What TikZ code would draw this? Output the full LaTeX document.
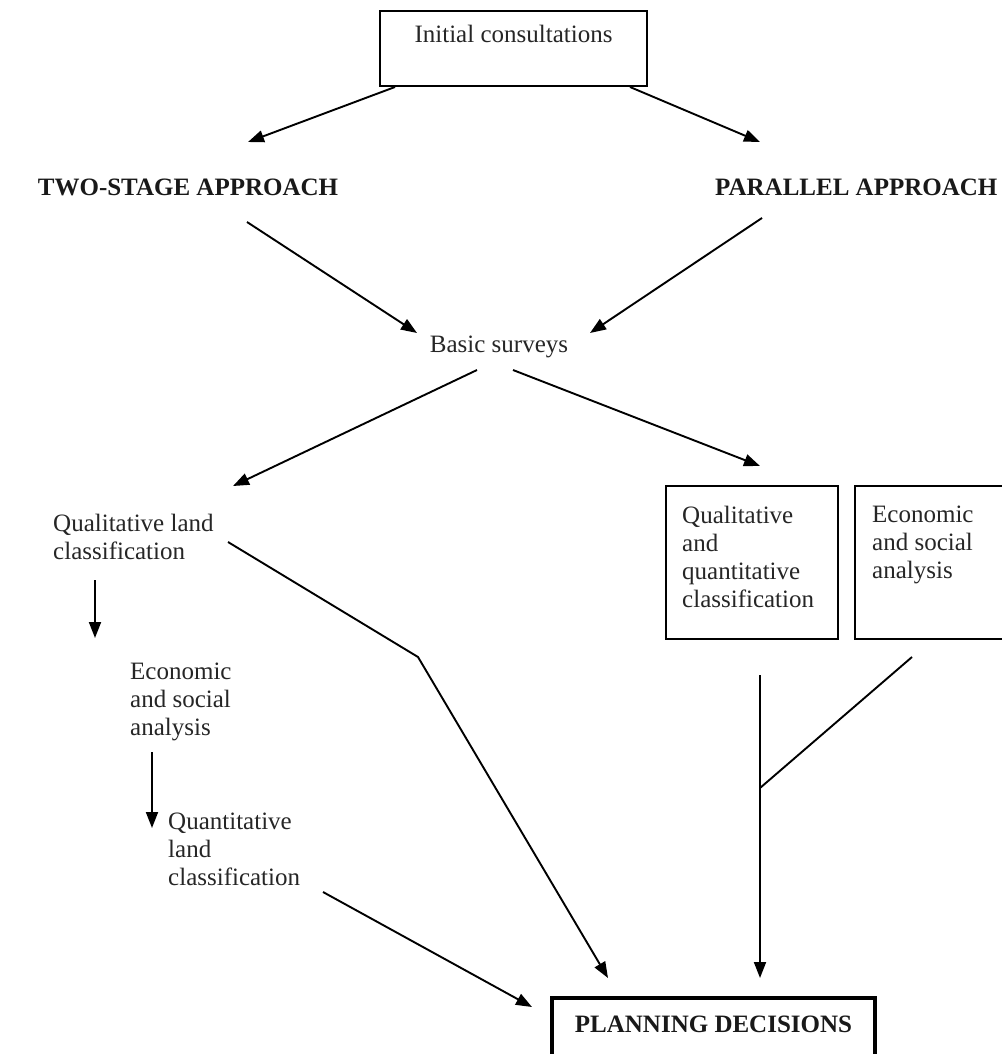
\documentclass[tikz,border=0pt]{standalone}
\usepackage{fontspec}
\setmainfont{Liberation Serif}
\usetikzlibrary{arrows.meta}
\begin{document}
\begin{tikzpicture}[x=1pt,y=-1pt,
  txt/.style={inner sep=0pt, text=black!85, font=\fontsize{25}{28}\selectfont},
  txtml/.style={txt, align=left},
  bold/.style={inner sep=0pt, text=black!90, font=\fontsize{25}{28}\selectfont\bfseries},
  box/.style={draw, line width=2pt, inner sep=0pt},
  arr/.style={line width=1.9pt, -{Triangle[length=16pt,width=12pt]}},
  ln/.style={line width=1.9pt}]
\useasboundingbox (0,0) rectangle (1001,1054);
\fill[white] (0,0) rectangle (1001,1054);

% nodes
\node[box, txt, anchor=base, minimum width=267pt, text height=32pt, text depth=43pt] (ic) at (513.5,43) {Initial consultations};
\node[bold, anchor=base] (two) at (188,195) {TWO-STAGE APPROACH};
\node[bold, anchor=base west] (par) at (715,195) {PARALLEL APPROACH};
\node[txt, anchor=base] (bs) at (499,352) {Basic surveys};
\node[txtml, anchor=north west] (ql) at (53,514) {Qualitative land\\classification};
\node[txtml, anchor=north west] (ec) at (130,663) {Economic\\and social\\analysis};
\node[txtml, anchor=north west] (qn) at (168,813) {Quantitative\\land\\classification};
\node[box, anchor=north west, minimum width=172pt, minimum height=153pt] (qqb) at (665,485) {};
\node[txtml, anchor=north west] (qq) at (682,506) {Qualitative\\and\\quantitative\\classification};
\node[box, anchor=north west, minimum width=190pt, minimum height=153pt] (esb) at (854,485) {};
\node[txtml, anchor=north west] (es) at (872,506) {Economic\\and social\\analysis};
\node[draw, line width=4pt, bold, anchor=base, minimum width=323pt, text height=34pt, text depth=43pt] (pd) at (713.5,1032) {PLANNING DECISIONS};

% connector end points
\coordinate (icL) at (395,87);
\coordinate (icR) at (630,87);
\coordinate (twoT) at (248,142);
\coordinate (parT) at (760,142);
\coordinate (twoB) at (247,222);
\coordinate (parB) at (762,218);
\coordinate (bsL) at (417,333);
\coordinate (bsR) at (590,333);
\coordinate (bsBL) at (477,370);
\coordinate (bsBR) at (513,370);
\coordinate (qlT) at (233,486);
\coordinate (qqT) at (760,466);
\coordinate (qlR) at (228,542);
\coordinate (bend) at (418,657);
\coordinate (pdA) at (608,978);
\coordinate (qlB) at (95,580);
\coordinate (ecT) at (95,638);
\coordinate (ecB) at (152,752);
\coordinate (qnT) at (152,828);
\coordinate (qnR) at (323,892);
\coordinate (pdL) at (532,1007);
\coordinate (qqB) at (760,675);
\coordinate (pdB) at (760,978);
\coordinate (esB) at (912,657);
\coordinate (join) at (760,788);

% connectors
\draw[arr] (icL) -- (twoT);
\draw[arr] (icR) -- (parT);
\draw[arr] (twoB) -- (bsL);
\draw[arr] (parB) -- (bsR);
\draw[arr] (bsBL) -- (qlT);
\draw[arr] (bsBR) -- (qqT);
\draw[arr] (qlR) -- (bend) -- (pdA);
\draw[arr] (qlB) -- (ecT);
\draw[arr] (ecB) -- (qnT);
\draw[arr] (qnR) -- (pdL);
\draw[arr] (qqB) -- (pdB);
\draw[ln] (esB) -- (join);
\end{tikzpicture}
\end{document}
